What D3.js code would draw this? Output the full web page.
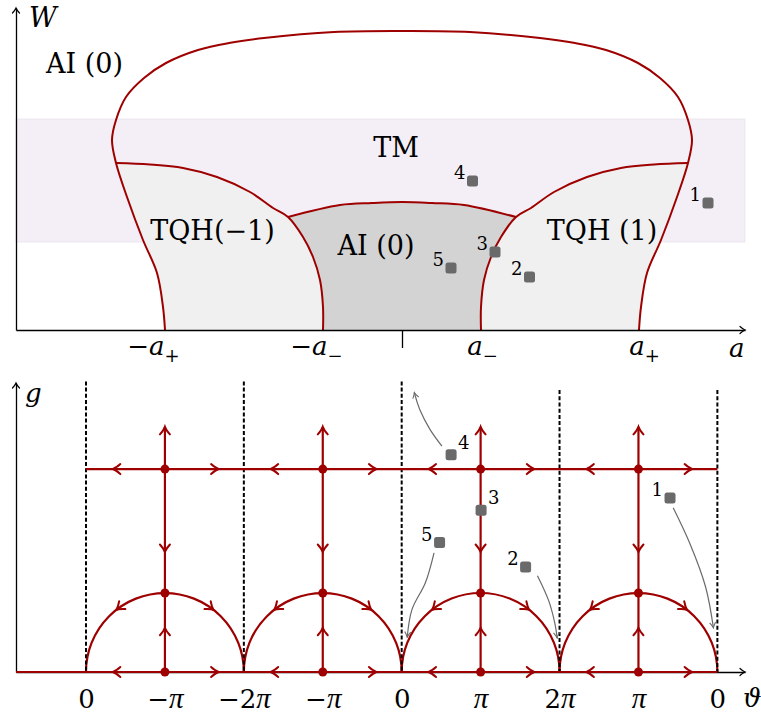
<!DOCTYPE html>
<html lang="en">
<head>
<meta charset="UTF-8">
<title>phase diagram</title>
<script src="https://cdn.jsdelivr.net/npm/d3@7"></script>
<style>
    body { margin: 0; background: #fff; }
    svg text { font-family: "DejaVu Serif", serif; fill: #000; }
    .axis path, .axis line { fill: none; stroke: #000; stroke-width: 1.3; }
</style>
</head>
<body>
<script>
// ---------- data: top panel (a, W), right half, mirrored for a < 0
var outerRight = [[0, 2.99], [0.68, 2.98], [1.38, 2.92], [1.73, 2.87], [2.04, 2.80], [2.36, 2.67],
                  [2.58, 2.52], [2.76, 2.33], [2.86, 2.10], [2.90, 1.90], [2.86, 1.67], [2.75, 1.33],
                  [2.59, 0.90], [2.45, 0.57], [2.39, 0.23], [2.37, 0]];
var innerRight = [[0.79, 0], [0.79, 0.23], [0.82, 0.50], [0.89, 0.73], [0.99, 0.93], [1.14, 1.13],
                  [1.29, 1.22], [1.52, 1.38], [1.85, 1.53], [2.19, 1.62], [2.52, 1.655], [2.86, 1.67]];
var aiTopRight = [[0, 1.28], [0.30, 1.27], [0.62, 1.25], [1.14, 1.13]];
var tmBand = [0.88, 2.11];
var topTickAt = [-2.49, -0.86, 0.80, 2.42];
var topTickSign = ["−", "−", "", ""];
var topTickSub = ["+", "−", "−", "+"];
var regionNames = ["AI (0)", "TM", "TQH(−1)", "AI (0)", "TQH (1)"];
var regionAt = [[-3.175, 2.57], [-0.06, 1.73], [-1.895, 0.90], [-0.26, 0.75], [2.0, 0.90]];
var pointNames = ["1", "2", "3", "4", "5"];
var pointsTop = [[3.06, 1.27], [1.275, 0.53], [0.93, 0.78], [0.705, 1.49], [0.49, 0.62]];

// ---------- data: bottom panel (unfolded angle u, g)
var thetaTicks = ["0", "−π", "−2π", "−π", "0", "π", "2π", "π", "0"];
var dashU = [0, 2, 4, 6, 8];
var dashTop = [3.68, 3.68, 3.68, 3.57, 3.57];
var saddleU = [1, 3, 5, 7];
var gSep = 2.57;      // upper separatrix
var gArc = 1;         // semicircle radius
var gVertTop = 3.105;
var pointsBottom = [[7.40, 2.205], [5.57, 1.33], [5.006, 2.05], [4.626, 2.75], [4.48, 1.64]];
var labelSide = ["left", "left", "right", "right", "left"];
var flows = [
    [[7.44, 2.08], [7.65, 1.63], [7.85, 1.08], [7.95, 0.56]],
    [[5.72, 1.22], [5.86, 0.91], [5.94, 0.62], [5.97, 0.43]],
    null,
    [[4.51, 2.86], [4.36, 3.07], [4.23, 3.32], [4.16, 3.54]],
    [[4.41, 1.51], [4.30, 1.13], [4.13, 0.79], [4.07, 0.44]]
];

var red = "#9e0000", grey = "#6a6a6a";

var svg = d3.select("body").append("svg")
    .attr("width", 761)
    .attr("height", 718);

svg.append("defs").append("marker")
    .attr("id", "garrow")
    .attr("viewBox", "-7 -4 8 8")
    .attr("refX", 0).attr("refY", 0)
    .attr("markerWidth", 8).attr("markerHeight", 8)
    .attr("markerUnits", "userSpaceOnUse")
    .attr("orient", "auto")
    .append("path")
    .attr("d", "M-5.5,-3 Q-2,-0.6 0,0 Q-2,0.6 -5.5,3")
    .attr("fill", "none").attr("stroke", grey).attr("stroke-width", 1.1);

// open "to" arrow head
function chevron(g, x, y, ang, color, w, big) {
    var d = big ? "M-7.5,-5 Q-3,-1 0,0 Q-3,1 -7.5,5" : "M-5,-3.5 Q-2,-0.8 0,0 Q-2,0.8 -5,3.5";
    g.append("path")
        .attr("d", d)
        .attr("transform", "translate(" + x + "," + y + ") rotate(" + ang + ")")
        .attr("fill", "none")
        .attr("stroke", color)
        .attr("stroke-width", w)
        .attr("stroke-linecap", "round");
}

// ================= top panel =================
var xA = d3.scaleLinear().domain([-3.86, 3.43]).range([16, 745]);
var yW = d3.scaleLinear().domain([0, 3.22]).range([330, 8]);
var lineA = d3.line()
    .x(function(d){ return xA(d[0]); })
    .y(function(d){ return yW(d[1]); })
    .curve(d3.curveCatmullRom.alpha(0.5));

function neg(p){ return [-p[0], p[1]]; }
function joined(){
    var parts = Array.prototype.slice.call(arguments);
    return parts.map(function(pts, i){
        var s = lineA(pts);
        return i ? s.replace(/^M/, "L") : s;
    }).join("") + "Z";
}

var outerFull = outerRight.slice().reverse().map(neg).concat(outerRight.slice(1));
var innerLeft = innerRight.map(neg);
var aiTopFull = aiTopRight.slice().reverse().concat(aiTopRight.slice(1).map(neg));
var junction = 10;   // where the TQH boundary meets the outer curve
var aiCorner = 5;    // where it meets the AI top

var gT = svg.append("g");

gT.append("rect")
    .attr("x", xA(-3.86))
    .attr("width", xA(3.43) - xA(-3.86))
    .attr("y", yW(tmBand[1]))
    .attr("height", yW(tmBand[0]) - yW(tmBand[1]))
    .attr("fill", "#f4eff6")
    .attr("stroke", "#e9e4ec")
    .attr("stroke-width", 0.8);

gT.append("path").attr("d", joined(innerRight, outerRight.slice(junction))).attr("fill", "#f0f0f0");
gT.append("path").attr("d", joined(innerLeft, outerRight.slice(junction).map(neg))).attr("fill", "#f0f0f0");
gT.append("path")
    .attr("d", joined(innerRight.slice(0, aiCorner + 1), aiTopFull, innerLeft.slice(0, aiCorner + 1).reverse()))
    .attr("fill", "#d3d3d3");

[outerFull, innerRight, innerLeft, aiTopFull].forEach(function(pts){
    gT.append("path")
        .attr("d", lineA(pts))
        .attr("fill", "none")
        .attr("stroke", red)
        .attr("stroke-width", 2);
});

// axes
var axTop = gT.append("g").attr("class", "axis")
    .attr("transform", "translate(0," + yW(0) + ")")
    .call(d3.axisBottom(xA).tickValues(topTickAt).tickSize(0).tickSizeOuter(0).tickFormat(""));
axTop.selectAll(".tick text").each(function(d, i){
    var t = d3.select(this).attr("y", 25).attr("dy", null).style("font-size", "26px");
    t.append("tspan").text(topTickSign[i]);
    t.append("tspan").text("a").style("font-style", "italic");
    t.append("tspan").text(topTickSub[i]).attr("dy", 7).style("font-size", "18px");
});
gT.append("g").attr("class", "axis")
    .attr("transform", "translate(0," + yW(0) + ")")
    .call(d3.axisBottom(xA).tickValues([0]).tickSize(18).tickFormat(""))
    .select(".domain").remove();
gT.append("g").attr("class", "axis")
    .attr("transform", "translate(" + xA(-3.86) + ",0)")
    .call(d3.axisLeft(yW).tickValues([]).tickSizeOuter(0));
chevron(gT, xA(-3.86), yW(3.22), -90, "#000", 1.2, false);
chevron(gT, xA(3.43), yW(0), 0, "#000", 1.2, false);

gT.append("text").attr("x", 29).attr("y", 27).style("font-size", "27px").style("font-style", "italic").text("W");
gT.append("text").attr("x", 729).attr("y", 357).style("font-size", "26px").style("font-style", "italic").text("a");

gT.selectAll(".region").data(regionNames).enter().append("text")
    .attr("x", function(d, i){ return xA(regionAt[i][0]); })
    .attr("y", function(d, i){ return yW(regionAt[i][1]); })
    .attr("text-anchor", "middle")
    .style("font-size", "27px")
    .text(function(d){ return d; });

function drawPoints(g, pts, sx, sy, sides) {
    g.selectAll(null).data(pts).enter().append("rect")
        .attr("x", function(d){ return sx(d[0]) - 5.5; })
        .attr("y", function(d){ return sy(d[1]) - 5.5; })
        .attr("width", 11).attr("height", 11).attr("rx", 2.5)
        .attr("fill", grey);
    g.selectAll(null).data(pts).enter().append("text")
        .attr("x", function(d, i){ return sx(d[0]) + (sides[i] === "right" ? 7 : -7); })
        .attr("y", function(d, i){ return sy(d[1]) + (sides[i] === "right" ? -6 : -2); })
        .attr("text-anchor", function(d, i){ return sides[i] === "right" ? "start" : "end"; })
        .style("font-size", "18px")
        .text(function(d, i){ return pointNames[i]; });
}
drawPoints(gT, pointsTop, xA, yW, ["left", "left", "left", "left", "left"]);

// ================= bottom panel =================
var xU = d3.scaleLinear().domain([-0.887, 8.35]).range([16, 745]);
var yG = d3.scaleLinear().domain([0, 3.66]).range([672, 383]);
var lineU = d3.line()
    .x(function(d){ return xU(d[0]); })
    .y(function(d){ return yG(d[1]); });
var r = xU(gArc) - xU(0);

var gB = svg.append("g");

// axes
var axB = gB.append("g").attr("class", "axis")
    .attr("transform", "translate(0," + yG(0) + ")")
    .call(d3.axisBottom(xU).tickValues(d3.range(thetaTicks.length)).tickSize(0).tickSizeOuter(0).tickFormat(""));
axB.selectAll(".tick text").each(function(d){
    var s = thetaTicks[d];
    var t = d3.select(this).attr("y", 36).attr("dy", null).style("font-size", "26px");
    var k = s.indexOf("π");
    if (k < 0) { t.text(s); return; }
    t.append("tspan").text(s.slice(0, k));
    t.append("tspan").text("π")
        .style("font-family", "'Liberation Serif', serif")
        .style("font-style", "italic")
        .style("font-size", "29px");
});
gB.append("g").attr("class", "axis")
    .attr("transform", "translate(" + xU(-0.887) + ",0)")
    .call(d3.axisLeft(yG).tickValues([]).tickSizeOuter(0));
chevron(gB, xU(-0.887), yG(3.66), -90, "#000", 1.2, false);
chevron(gB, xU(8.35), yG(0), 0, "#000", 1.2, false);

gB.append("text").attr("x", 25).attr("y", 402).style("font-size", "26px").style("font-style", "italic").text("g");
gB.append("text").attr("x", 743).attr("y", 707).style("font-size", "26px").style("font-style", "italic").text("ϑ");

// semicircles
saddleU.forEach(function(u){
    var p = d3.path();
    p.moveTo(xU(u) - r, yG(0));
    p.arc(xU(u), yG(0), r, Math.PI, 2 * Math.PI, false);
    gB.append("path").attr("d", p.toString())
        .attr("fill", "none").attr("stroke", red).attr("stroke-width", 2.2);
});

// dashed lines
gB.selectAll(".dash").data(dashU).enter().append("line")
    .attr("x1", function(d){ return xU(d); }).attr("x2", function(d){ return xU(d); })
    .attr("y1", function(d, i){ return yG(dashTop[i]); }).attr("y2", yG(0))
    .attr("stroke", "#000").attr("stroke-width", 2).attr("stroke-dasharray", "4,2.2");

// separatrices
gB.append("path").attr("d", lineU([[-0.887, 0], [8, 0]]))
    .attr("stroke", red).attr("stroke-width", 2.2).attr("fill", "none");
gB.append("path").attr("d", lineU([[0, gSep], [8, gSep]]))
    .attr("stroke", red).attr("stroke-width", 2.2).attr("fill", "none");
saddleU.forEach(function(u){
    gB.append("path").attr("d", lineU([[u, 0], [u, gVertTop]]))
        .attr("stroke", red).attr("stroke-width", 2.2).attr("fill", "none");
});

// flow arrows on red lines
saddleU.forEach(function(u){
    [0, gSep].forEach(function(g){
        chevron(gB, xU(u - 0.66), yG(g), 180, red, 2, true);
        chevron(gB, xU(u + 0.68), yG(g), 0, red, 2, true);
    });
    chevron(gB, xU(u), yG(gVertTop), -90, red, 2, true);
    chevron(gB, xU(u), yG(1.52), 90, red, 2, true);
    chevron(gB, xU(u), yG(0.56), -90, red, 2, true);
    [128, 52].forEach(function(phi){
        var rad = phi * Math.PI / 180;
        var x = xU(u + gArc * Math.cos(rad)), y = yG(gArc * Math.sin(rad));
        // tangent pointing away from the top of the arc (math coords, y up)
        var mx = phi > 90 ? -Math.sin(rad) : Math.sin(rad);
        var my = phi > 90 ? Math.cos(rad) : -Math.cos(rad);
        chevron(gB, x, y, Math.atan2(-my, mx) * 180 / Math.PI, red, 2, true);
    });
});

// fixed points
saddleU.forEach(function(u){
    gB.selectAll(null).data([0, gArc, gSep]).enter().append("circle")
        .attr("cx", xU(u)).attr("cy", function(d){ return yG(d); })
        .attr("r", 4.5).attr("fill", red);
});

// trajectories of the sample points
var lineFlow = d3.line()
    .x(function(d){ return xU(d[0]); })
    .y(function(d){ return yG(d[1]); })
    .curve(d3.curveCatmullRom.alpha(0.5));
flows.forEach(function(f){
    if (!f) return;
    gB.append("path").attr("d", lineFlow(f))
        .attr("fill", "none").attr("stroke", grey).attr("stroke-width", 1.2)
        .attr("marker-end", "url(#garrow)");
});

drawPoints(gB, pointsBottom, xU, yG, labelSide);
</script>
</body>
</html>
